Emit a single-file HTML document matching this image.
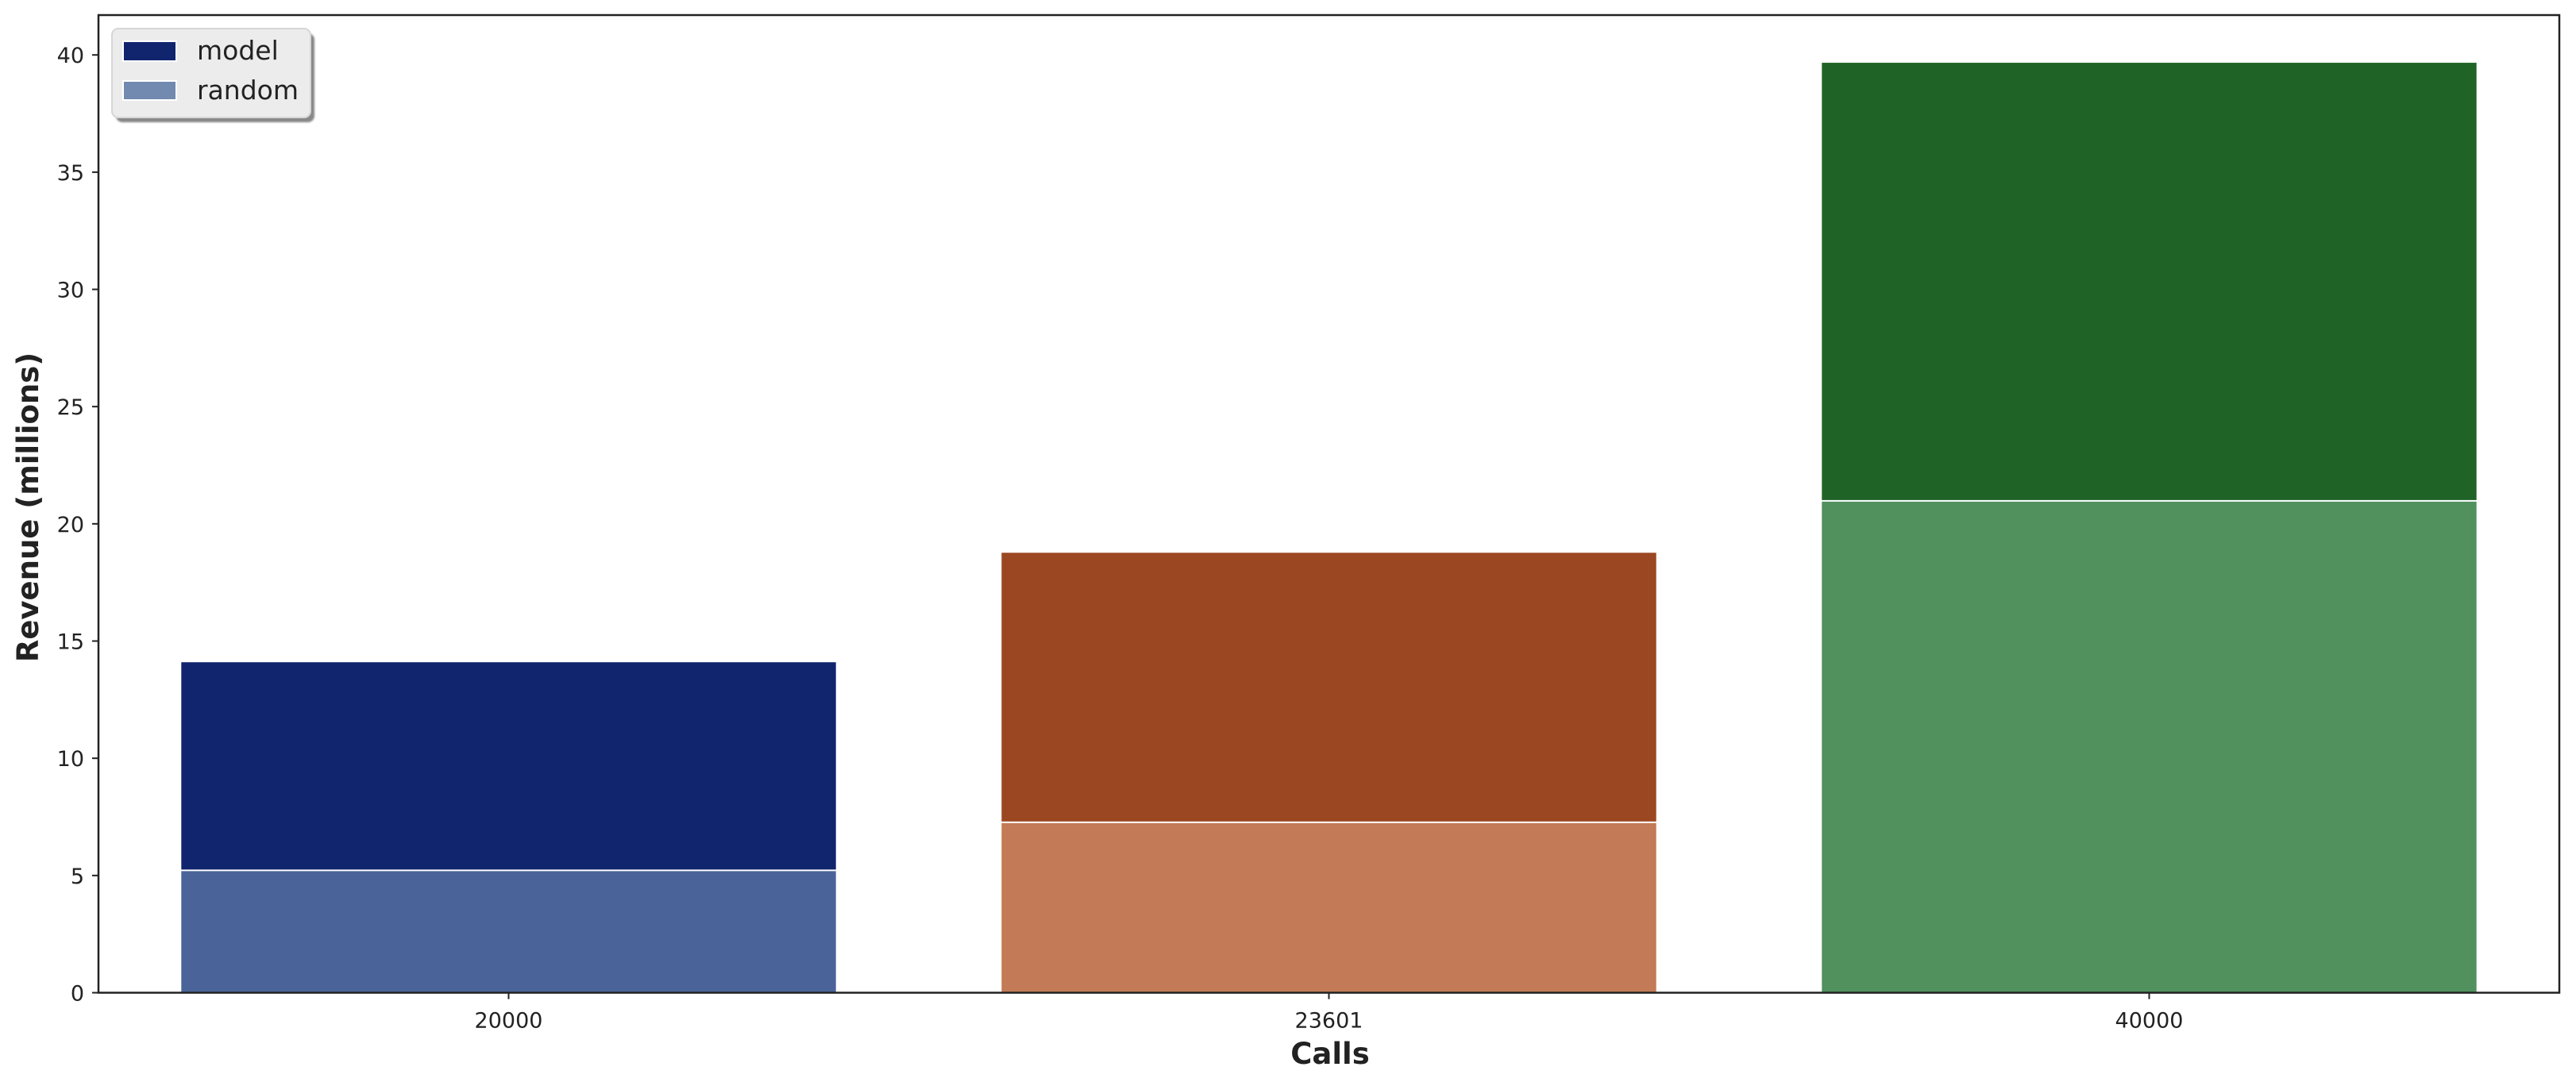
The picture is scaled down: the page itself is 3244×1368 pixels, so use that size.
<!DOCTYPE html>
<html><head><meta charset="utf-8"><style>
html,body{margin:0;padding:0;background:#fff;}
svg{display:block;font-family:"DejaVu Sans","Liberation Sans",sans-serif;}
</style></head><body>
<svg id="chart" width="3244" height="1368" viewBox="0 0 3244 1368" xmlns="http://www.w3.org/2000/svg">
<defs><filter id="sh" x="-10%" y="-10%" width="130%" height="130%"><feGaussianBlur stdDeviation="1"/></filter></defs>
<g id="bars"></g>
<g id="axes"></g>
<g>
  <rect x="146" y="42" width="250" height="112" rx="8" fill="#888" filter="url(#sh)"/>
  <rect x="141" y="36" width="250" height="112" rx="8" fill="#ececec" stroke="#d6d6d6" stroke-width="2"/>
  <rect x="155" y="52" width="67" height="25" fill="#10256e" stroke="#fff" stroke-width="2"/>
  <text x="248" y="75" font-size="33" fill="#222">model</text>
  <rect x="155" y="102" width="67" height="24" fill="#738ab0" stroke="#fff" stroke-width="2"/>
  <text x="248" y="125" font-size="33" fill="#222">random</text>
</g>
<text x="1675" y="1340" font-size="37" font-weight="bold" fill="#222" text-anchor="middle">Calls</text>
<text transform="translate(48,639) rotate(-90)" font-size="37" font-weight="bold" fill="#222" text-anchor="middle">Revenue (millions)</text>
</svg>
<script>
const categories = ["20000", "23601", "40000"];
const modelValues = [14.13, 18.8, 39.7];
const randomValues = [5.22, 7.27, 20.98];
const yTicks = [0, 5, 10, 15, 20, 25, 30, 35, 40];
const modelColors = ["#10256e", "#9b4722", "#1f6426"];
const randomColors = ["#4a6499", "#c27b56", "#50915e"];

const L = 124, R = 3223, T = 19, B = 1250.5;
const yMin = 0, yMax = 41.7;
function yScale(v){ return B - (v - yMin) / (yMax - yMin) * (B - T); }
function xScale(i){ return L + (i + 0.5) / categories.length * (R - L); }
const bw = 0.8 * (R - L) / categories.length;
const NS = "http://www.w3.org/2000/svg";
function mk(tag, attrs, parent){ const e = document.createElementNS(NS, tag); for (const k in attrs) e.setAttribute(k, attrs[k]); parent.appendChild(e); return e; }
const bars = document.getElementById('bars');
const axes = document.getElementById('axes');
categories.forEach((c, i) => {
  const x = xScale(i) - bw / 2;
  const m = mk('rect', {x: x, y: yScale(modelValues[i]), width: bw, height: B - yScale(modelValues[i]), fill: modelColors[i], stroke: '#fff', 'stroke-width': 2}, bars);
  
  
  const r = mk('rect', {x: x, y: yScale(randomValues[i]), width: bw, height: B - yScale(randomValues[i]), fill: randomColors[i], stroke: '#fff', 'stroke-width': 2}, bars);
  
  
  const tk = mk('line', {x1: xScale(i), x2: xScale(i), y1: B, y2: B + 8, stroke: '#222', 'stroke-width': 2}, axes);
  
  
  const tl = mk('text', {x: xScale(i), y: B + 44, 'font-size': 27, fill: '#222', 'text-anchor': 'middle'}, axes);
  tl.textContent = c;
  
  
});
yTicks.forEach(t => {
  const tk = mk('line', {x1: L - 8, x2: L, y1: yScale(t), y2: yScale(t), stroke: '#222', 'stroke-width': 2}, axes);
  
  
  const tl = mk('text', {x: L - 18, y: yScale(t) + 10, 'font-size': 27, fill: '#222', 'text-anchor': 'end'}, axes);
  tl.textContent = t;
  
  
});
const frame = mk('rect', {x: L, y: T, width: R - L, height: B - T, fill: 'none', stroke: '#222', 'stroke-width': 2.5}, axes);


</script>
</body></html>
